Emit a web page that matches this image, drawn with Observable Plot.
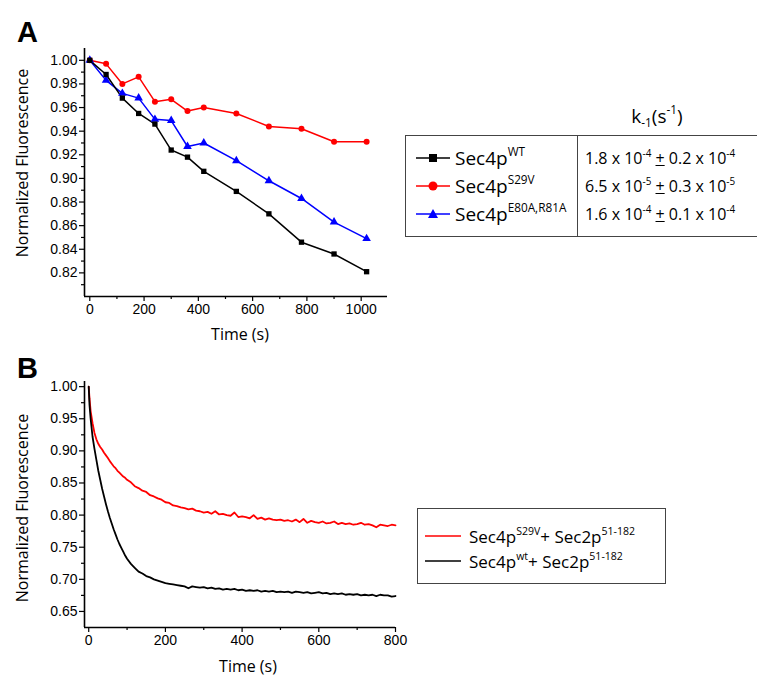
<!DOCTYPE html>
<html><head><meta charset="utf-8">
<script src="https://cdn.jsdelivr.net/npm/d3@7"></script>
<script src="https://cdn.jsdelivr.net/npm/@observablehq/plot@0.6"></script>
<style>
body{margin:0;background:#fff;}
#root{position:relative;width:757px;height:677px;overflow:hidden;font-family:"Open Sans","Noto Sans",sans-serif;color:#000;}
.abs{position:absolute;}
.panel{position:absolute;font-family:"Liberation Sans",Arial,sans-serif;font-weight:bold;font-size:29px;line-height:1;}
.ylab{position:absolute;font-size:16px;line-height:1;white-space:nowrap;transform:translate(-50%,-50%) rotate(-90deg);}
.xlab{position:absolute;font-size:16px;line-height:1;white-space:nowrap;transform:translate(-50%,-50%);}
sup{font-size:62%;vertical-align:0;position:relative;top:-0.75em;line-height:0;}
sub{font-size:62%;vertical-align:0;position:relative;top:0.35em;line-height:0;}
.lg{position:absolute;white-space:nowrap;display:flex;align-items:center;}
.lg span{line-height:1;}
</style></head>
<body><div id="root"></div>
<script>
// ---------- Panel A data ----------
const timeA = [0,60,120,180,240,300,360,420,540,660,780,900,1020];
const wtA   = [1.000,0.988,0.968,0.955,0.946,0.924,0.918,0.906,0.889,0.870,0.846,0.836,0.821];
const s29vA = [1.000,0.997,0.980,0.986,0.965,0.967,0.957,0.960,0.955,0.944,0.942,0.931,0.931];
const e80aA = [1.000,0.983,0.972,0.968,0.950,0.949,0.927,0.930,0.915,0.898,0.883,0.863,0.849];
const yTicksA = [0.82,0.84,0.86,0.88,0.90,0.92,0.94,0.96,0.98,1.00];
const xTicksA = [0,200,400,600,800,1000];
const seriesA = ["Sec4pWT","Sec4pS29V","Sec4pE80A,R81A"];
const rateA = ["1.8 x 10-4 ± 0.2 x 10-4","6.5 x 10-5 ± 0.3 x 10-5","1.6 x 10-4 ± 0.1 x 10-4"];

// ---------- Panel B data ----------
const timeB = [0,2,5,10,15,20,25,30,35,40,45,50,55,60,65,70,75,80,85,90,95,100,
  110,120,130,140,150,160,170,180,190,200,210,220,230,240,250,260,270,280,290,300,
  310,320,330,340,350,360,370,380,390,400,410,420,430,440,450,460,470,480,490,500,
  510,520,530,540,550,560,570,580,590,600,610,620,630,640,650,660,670,680,690,700,
  710,720,730,740,750,760,770,780,790,800];
const wtB = [1.000,0.972,0.950,0.922,0.903,0.886,0.869,0.855,0.841,0.829,0.817,0.806,0.796,0.787,0.778,0.770,0.762,0.755,0.749,0.743,0.737,0.732,
  0.724,0.718,0.712,0.709,0.705,0.703,0.700,0.698,0.696,0.694,0.693,0.692,0.691,0.690,0.689,0.686,0.689,0.688,0.687,0.688,
  0.686,0.687,0.685,0.686,0.684,0.685,0.684,0.685,0.683,0.684,0.682,0.683,0.682,0.683,0.681,0.682,0.681,0.682,0.680,0.681,
  0.680,0.681,0.679,0.681,0.680,0.679,0.680,0.678,0.679,0.680,0.678,0.679,0.677,0.678,0.677,0.678,0.676,0.677,0.676,0.677,
  0.675,0.676,0.675,0.676,0.674,0.676,0.675,0.675,0.673,0.674];
const s29vB = [1.000,0.982,0.962,0.943,0.928,0.918,0.911,0.906,0.902,0.897,0.893,0.889,0.884,0.880,0.876,0.873,0.869,0.866,0.863,0.860,0.858,0.855,
  0.851,0.845,0.842,0.838,0.836,0.831,0.829,0.826,0.824,0.820,0.819,0.815,0.814,0.812,0.811,0.809,0.810,0.807,0.806,0.804,
  0.805,0.802,0.806,0.801,0.802,0.800,0.799,0.804,0.797,0.798,0.797,0.795,0.800,0.794,0.796,0.793,0.795,0.793,0.792,0.793,
  0.791,0.792,0.790,0.793,0.789,0.794,0.788,0.791,0.789,0.788,0.790,0.787,0.788,0.790,0.786,0.788,0.786,0.787,0.785,0.786,
  0.788,0.785,0.786,0.784,0.781,0.785,0.784,0.783,0.785,0.784];
const yTicksB = [0.65,0.70,0.75,0.80,0.85,0.90,0.95,1.00];
const xTicksB = [0,200,400,600,800];

const root = document.getElementById("root");
const tickFont = {fontFamily:'"Liberation Sans",Arial,sans-serif', fontSize:"14px", background:"transparent", overflow:"visible"};

function axes(xDom, yDom, xMaj, xMin, yMaj, yMin){
  return [
    Plot.axisY(yMin,{tickSize:3,tickFormat:()=>"",label:null,strokeWidth:1.2}),
    Plot.axisY(yMaj,{tickSize:5,tickPadding:2,tickFormat:d=>d.toFixed(2),label:null,strokeWidth:1.2}),
    Plot.axisX(xMin,{tickSize:3,tickFormat:()=>"",label:null,strokeWidth:1.2}),
    Plot.axisX(xMaj,{tickSize:5,tickPadding:3,tickFormat:d=>String(d),label:null,strokeWidth:1.2}),
    Plot.ruleX([xDom[0]],{stroke:"black",strokeWidth:1.6}),
    Plot.ruleY([yDom[0]],{stroke:"black",strokeWidth:1.6})
  ];
}

// ---- Panel A plot ----
const dataA = timeA.map((t,i)=>({t, wt:wtA[i], s29v:s29vA[i], e80a:e80aA[i]}));
const xDomA=[-19.5,1097], yDomA=[0.80,1.01];
const plotA = Plot.plot({
  width:400, height:345, marginLeft:84, marginRight:13, marginTop:48, marginBottom:49,
  style:tickFont,
  x:{domain:xDomA}, y:{domain:yDomA},
  marks:[
    ...axes(xDomA,yDomA,xTicksA,d3.range(100,1100,200),yTicksA,d3.range(0.81,1.005,0.02).map(v=>+v.toFixed(2))),
    Plot.line(dataA,{x:"t",y:"s29v",stroke:"#ff0000",strokeWidth:1.5}),
    Plot.line(dataA,{x:"t",y:"e80a",stroke:"#0000ff",strokeWidth:1.5}),
    Plot.line(dataA,{x:"t",y:"wt",stroke:"black",strokeWidth:1.5}),
    Plot.dot(dataA,{x:"t",y:"s29v",symbol:"circle",fill:"#ff0000",r:3}),
    Plot.dot(dataA,{x:"t",y:"e80a",symbol:"triangle",fill:"#0000ff",r:3.2}),
    Plot.dot(dataA,{x:"t",y:"wt",symbol:"square",fill:"black",r:3})
  ]
});
plotA.style.position="absolute"; plotA.style.left="0px"; plotA.style.top="0px";
root.appendChild(plotA);

// ---- Panel B plot ----
const dataB = timeB.map((t,i)=>({t, wt:wtB[i], s29v:s29vB[i]}));
const xDomB=[-11,800], yDomB=[0.625,1.008];
const plotB = Plot.plot({
  width:420, height:337, marginLeft:84, marginRight:25, marginTop:41, marginBottom:50,
  style:tickFont,
  x:{domain:xDomB}, y:{domain:yDomB},
  marks:[
    ...axes(xDomB,yDomB,xTicksB,d3.range(100,800,200),yTicksB,d3.range(0.675,1.0,0.05).map(v=>+v.toFixed(3))),
    Plot.line(dataB,{x:"t",y:"s29v",stroke:"#ff0000",strokeWidth:1.8}),
    Plot.line(dataB,{x:"t",y:"wt",stroke:"black",strokeWidth:1.8})
  ]
});
plotB.style.position="absolute"; plotB.style.left="0px"; plotB.style.top="340px";
root.appendChild(plotB);

// ---- text overlays ----
function add(html, cls, css){const d=document.createElement("div");d.className=cls;d.innerHTML=html;Object.assign(d.style,css);root.appendChild(d);return d;}
add("A","panel",{left:"17px",top:"18px"});
add("B","panel",{left:"17px",top:"354px"});
add("Normalized Fluorescence","ylab",{left:"22px",top:"163px"});
add("Time (s)","xlab",{left:"240px",top:"334px"});
add("Normalized Fluorescence","ylab",{left:"22px",top:"508px"});
add("Time (s)","xlab",{left:"248px",top:"666px"});

// ---- Legend A (table) ----
add("","abs",{left:"405px",top:"135px",width:"360px",height:"102px",border:"1px solid #444",boxSizing:"border-box"});
add("","abs",{left:"577px",top:"135px",width:"1px",height:"102px",background:"#444"});
add("k<sub>-1</sub>(s<sup>-1</sup>)","abs",{left:"657px",top:"116px",transform:"translate(-50%,-50%)",fontSize:"19px",lineHeight:"1",whiteSpace:"nowrap"});
const colorsA=["black","#ff0000","#0000ff"], symA=["square","circle","triangle"];
const supA=["WT","S29V","E80A,R81A"];
const rowY=[158,186,214];
function icon(color,sym){
  let m="";
  if(sym==="square") m=`<rect x="13" y="3" width="8" height="8" fill="${color}"/>`;
  if(sym==="circle") m=`<circle cx="17" cy="7" r="4.5" fill="${color}"/>`;
  if(sym==="triangle") m=`<polygon points="17,2 22,11 12,11" fill="${color}"/>`;
  return `<svg width="34" height="14" style="display:block"><line x1="0" x2="34" y1="7" y2="7" stroke="${color}" stroke-width="1.5"/>${m}</svg>`;
}
seriesA.forEach((s,i)=>{
  add(icon(colorsA[i],symA[i])+`<span style="margin-left:5px;font-size:19px">Sec4p<sup>${supA[i]}</sup></span>`,"lg",{left:"416px",top:(rowY[i]-14)+"px",height:"28px"});
  const m = rateA[i].match(/^(\S+) x 10(\S+) ± (\S+) x 10(\S+)$/);
  add(`<span style="font-size:16px">${m[1]} x 10<sup>${m[2]}</sup>&nbsp;<u>+</u>&nbsp;${m[3]} x 10<sup>${m[4]}</sup></span>`,"lg",{left:"585px",top:(rowY[i]-14)+"px",height:"28px"});
});

// ---- Legend B ----
add("","abs",{left:"417px",top:"508px",width:"249px",height:"76px",border:"1px solid #444",boxSizing:"border-box"});
const legB=[["#ff0000","Sec4p<sup>S29V</sup>+ Sec2p<sup>51-182</sup>",536],["black","Sec4p<sup>wt</sup>+ Sec2p<sup>51-182</sup>",561]];
legB.forEach(([c,t,y])=>{
  add(`<svg width="36" height="6" style="display:block"><line x1="0" x2="36" y1="3" y2="3" stroke="${c}" stroke-width="1.5"/></svg><span style="margin-left:8px;font-size:17px">${t}</span>`,"lg",{left:"425px",top:(y-10)+"px",height:"20px"});
});
</script></body></html>
